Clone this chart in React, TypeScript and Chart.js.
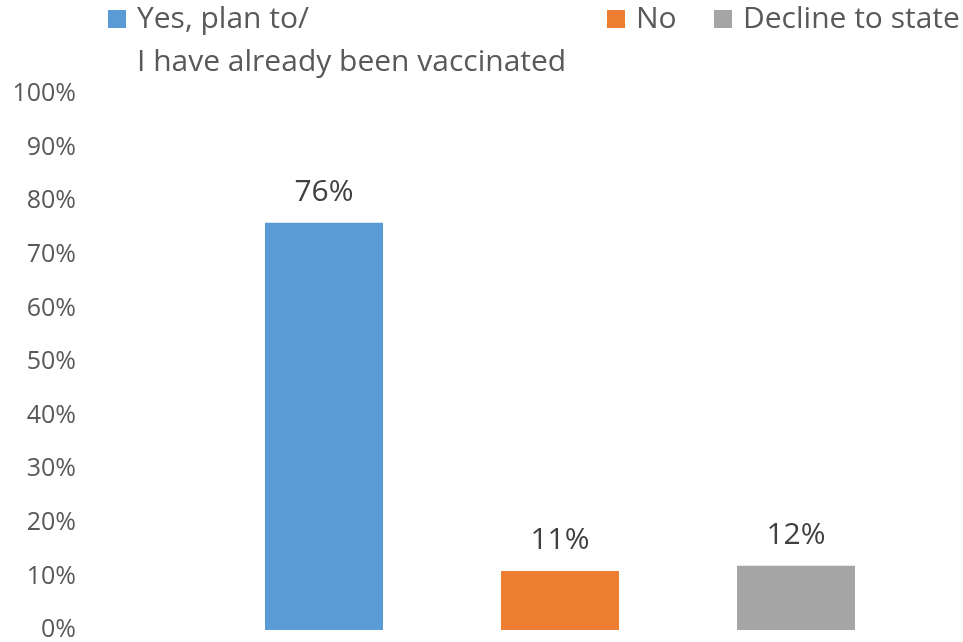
import { useEffect, useRef } from 'react';
import { Chart, registerables } from 'chart.js';

Chart.register(...registerables);

// Survey answers
const categories: string[][] = [
  ['Yes, plan to/', 'I have already been vaccinated'],
  ['No'],
  ['Decline to state'],
];
const shares: number[] = [76, 11, 12];
const barColors: string[] = ['#5B9BD5', '#ED7D31', '#A5A5A5'];
const yTicks: number[] = [0, 10, 20, 30, 40, 50, 60, 70, 80, 90, 100];

const FONT = "'Open Sans', sans-serif";
const TEXT_GRAY = '#595959';

// legend drawn by hand, because the first label wraps onto two lines
const legendPlugin = {
  id: 'topLegend',
  afterDraw(chart: Chart) {
    const { ctx } = chart;
    const boxX = [108, 607, 714];
    ctx.save();
    ctx.font = `30px ${FONT}`;
    ctx.textBaseline = 'alphabetic';
    ctx.textAlign = 'left';
    categories.forEach((lines, i) => {
      ctx.fillStyle = barColors[i];
      ctx.fillRect(boxX[i], 10, 18, 18);
      ctx.fillStyle = TEXT_GRAY;
      lines.forEach((line, j) => {
        ctx.fillText(line, boxX[i] + 29, 28 + j * 43);
      });
    });
    ctx.restore();
  },
};

const valueLabels = {
  id: 'valueLabels',
  afterDatasetsDraw(chart: Chart) {
    const { ctx } = chart;
    const meta = chart.getDatasetMeta(0);
    ctx.save();
    ctx.font = `30px ${FONT}`;
    ctx.fillStyle = '#404040';
    ctx.textAlign = 'center';
    ctx.textBaseline = 'alphabetic';
    meta.data.forEach((bar: any, i) => {
      ctx.fillText(`${shares[i]}%`, bar.x, bar.y - 22);
    });
    ctx.restore();
  },
};

export default function App() {
  const canvasRef = useRef<HTMLCanvasElement | null>(null);

  useEffect(() => {
    document.body.style.margin = '0';
    if (!canvasRef.current) return;
    const chart = new Chart(canvasRef.current, {
      type: 'bar',
      data: {
        labels: categories.map((c) => c.join(' ')),
        datasets: [
          {
            data: shares,
            backgroundColor: barColors,
            categoryPercentage: 1,
            barPercentage: 0.5,
          },
        ],
      },
      options: {
        animation: false,
        responsive: true,
        maintainAspectRatio: false,
        layout: { padding: { top: 94, right: 49, bottom: 12, left: 0 } },
        plugins: {
          legend: { display: false },
          tooltip: { enabled: false },
        },
        scales: {
          x: {
            display: false,
          },
          y: {
            min: 0,
            max: 100,
            afterBuildTicks: (scale: any) => {
              scale.ticks = yTicks.map((v) => ({ value: v }));
            },
            afterFit: (scale: any) => {
              // wide gap between labels and plot, but no extra vertical padding
              scale.width = 206;
              scale.paddingTop = 0;
              scale.paddingBottom = 0;
            },
            grid: { display: false },
            border: { display: false },
            ticks: {
              padding: 122,
              color: TEXT_GRAY,
              font: { family: FONT, size: 25 },
              callback: (v: any) => `${v}%`,
            },
          },
        },
      },
      plugins: [legendPlugin, valueLabels],
    });
    return () => chart.destroy();
  }, []);

  return (
    <div style={{ width: 963, height: 642, position: 'relative', background: '#fff' }}>
      <canvas ref={canvasRef} />
    </div>
  );
}
